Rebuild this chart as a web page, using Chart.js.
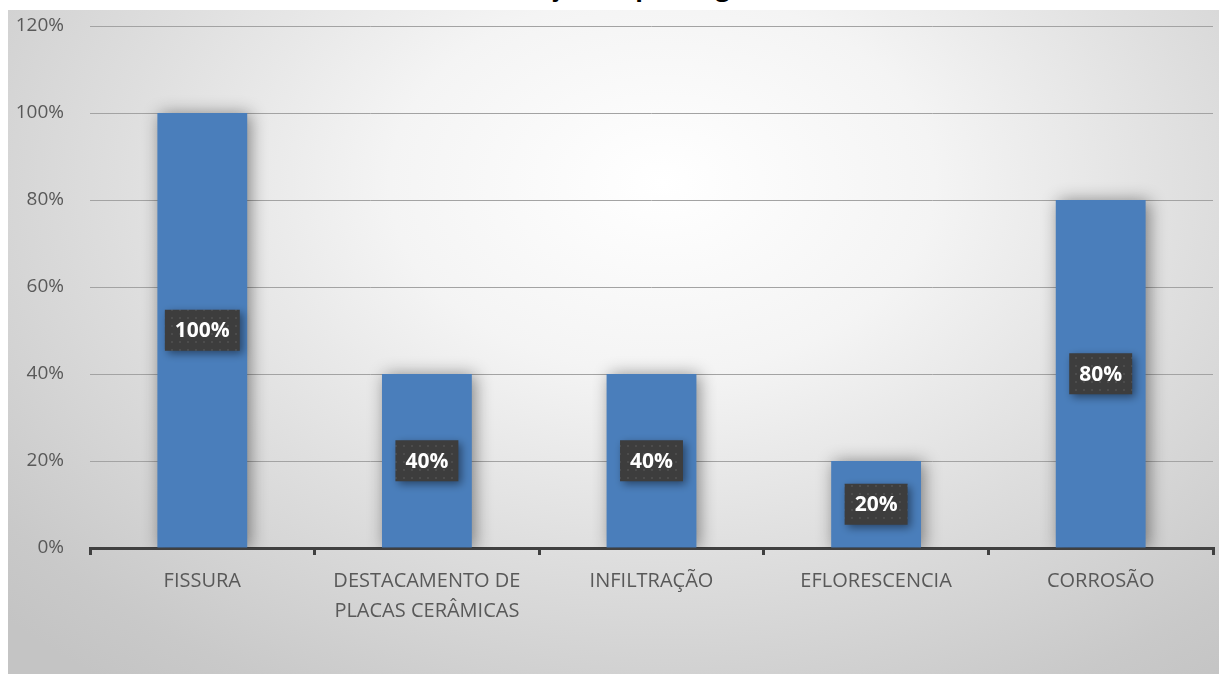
<!DOCTYPE html>
<html>
<head>
<meta charset="utf-8">
<script src="https://cdn.jsdelivr.net/npm/chart.js@4.4.1/dist/chart.umd.min.js"></script>
<style>
  html, body { margin: 0; padding: 0; background: #ffffff; }
  body { width: 1219px; height: 674px; position: relative; overflow: hidden; }
  #title {
    position: absolute; left: 440px; top: -29px;
    font: bold 25px "Open Sans", sans-serif; color: #000; line-height: 30px;
    white-space: nowrap;
  }
  #box {
    position: absolute; left: 8px; top: 10px; width: 1211px; height: 664px;
    background: radial-gradient(ellipse 75% 95% at 54% 26%, #ffffff 0%, #f4f4f4 30%, #dedede 60%, #c9c9c9 90%, #c4c4c4 100%);
  }
</style>
</head>
<body>
<div id="title">Distribuição de patologias</div>
<div id="box"><canvas id="chart"></canvas></div>
<script>
// Chart data
const categories = ['FISSURA', ['DESTACAMENTO DE', 'PLACAS CERÂMICAS'], 'INFILTRAÇÃO', 'EFLORESCENCIA', 'CORROSÃO'];
const values = [1.0, 0.4, 0.4, 0.2, 0.8];
const yTicks = ['0%', '20%', '40%', '60%', '80%', '100%', '120%'];

const textColor = '#595959';
const fontFamily = '"Open Sans", sans-serif';

// Dotted dark fill for data label boxes
function makePattern(ctx) {
    const tile = document.createElement('canvas');
    tile.width = 8;
    tile.height = 8;
    const t = tile.getContext('2d');
    t.fillStyle = '#3d3d3d';
    t.fillRect(0, 0, 8, 8);
    t.fillStyle = '#4c4c4c';
    t.fillRect(3, 3, 2, 2);
    return ctx.createPattern(tile, 'repeat');
}

// Soft shadow around the bars
const barShadow = {
    id: 'barShadow',
    beforeDatasetsDraw(chart) {
        const ctx = chart.ctx;
        ctx.save();
        ctx.shadowColor = 'rgba(0,0,0,0.45)';
        ctx.shadowBlur = 16;
        ctx.shadowOffsetX = 3;
        ctx.shadowOffsetY = 1;
    },
    afterDatasetsDraw(chart) {
        chart.ctx.restore();
    }
};

// Percent labels in dark boxes at bar middles
const boxLabels = {
    id: 'boxLabels',
    afterDatasetsDraw(chart) {
        const ctx = chart.ctx;
        const pattern = makePattern(ctx);
        const meta = chart.getDatasetMeta(0);
        ctx.save();
        ctx.font = 'bold 21px ' + fontFamily;
        meta.data.forEach((bar, i) => {
            const text = Math.round(values[i] * 100) + '%';
            const w = ctx.measureText(text).width + 20;
            const h = 41;
            const cx = bar.x;
            const cy = (bar.y + bar.base) / 2;
            ctx.save();
            ctx.shadowColor = 'rgba(0,0,0,0.45)';
            ctx.shadowBlur = 8;
            ctx.shadowOffsetX = 3;
            ctx.shadowOffsetY = 3;
            ctx.fillStyle = pattern;
            ctx.fillRect(cx - w / 2, cy - h / 2, w, h);
            ctx.restore();
            ctx.fillStyle = '#ffffff';
            ctx.textAlign = 'center';
            ctx.textBaseline = 'middle';
            ctx.fillText(text, cx, cy + 1);
        });
        ctx.restore();
    }
};

function initChart() {
    const ctx = document.getElementById('chart').getContext('2d');
    new Chart(ctx, {
        type: 'bar',
        data: {
            labels: categories,
            datasets: [{
                data: values,
                backgroundColor: '#4a7ebb',
                borderWidth: 0,
                barPercentage: 0.4,
                categoryPercentage: 1.0
            }]
        },
        options: {
            responsive: true,
            maintainAspectRatio: false,
            animation: false,
            layout: { padding: { top: 16, right: 6, left: 0, bottom: 0 } },
            plugins: {
                legend: { display: false },
                tooltip: { enabled: false }
            },
            scales: {
                x: {
                    afterFit(scale) { scale.height = 126; },
                    border: { display: true, color: '#404040', width: 3 },
                    grid: {
                        offset: true,
                        drawOnChartArea: false,
                        drawTicks: true,
                        tickLength: 7,
                        color: '#404040',
                        lineWidth: 3
                    },
                    ticks: {
                        color: textColor,
                        padding: 11,
                        maxRotation: 0,
                        autoSkip: false,
                        font: { family: fontFamily, size: 20, lineHeight: 1.5 }
                    }
                },
                y: {
                    min: 0,
                    max: 1.2,
                    afterFit(scale) {
                        scale.width = 82;
                        scale.paddingTop = 0;
                        scale.paddingBottom = 0;
                    },
                    border: { display: false },
                    grid: {
                        drawTicks: false,
                        color: (c) => c.index === 0 ? 'rgba(0,0,0,0)' : '#a3a3a3',
                        lineWidth: 1
                    },
                    ticks: {
                        stepSize: 0.2,
                        padding: 26,
                        color: textColor,
                        font: { family: fontFamily, size: 19 },
                        callback: (v, i) => yTicks[i]
                    }
                }
            }
        },
        plugins: [barShadow, boxLabels]
    });
}

document.addEventListener('DOMContentLoaded', initChart);
</script>
</body>
</html>
